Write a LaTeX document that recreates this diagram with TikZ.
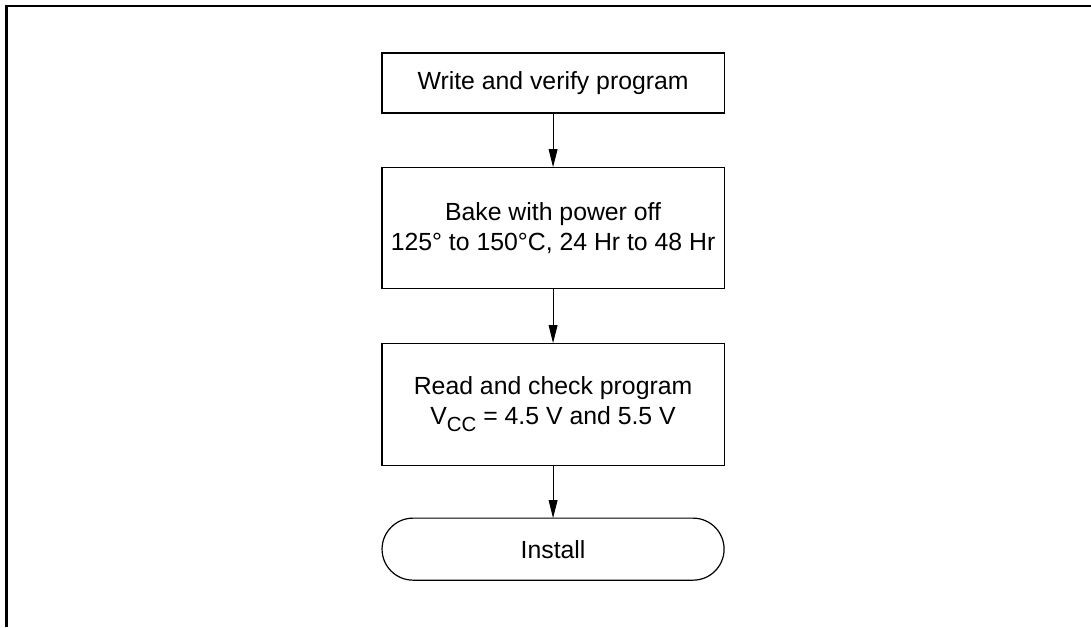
\documentclass[tikz,border=0pt]{standalone}
\usepackage{fontspec}
\setmainfont{Liberation Sans}
\usetikzlibrary{arrows.meta, positioning}
\newcommand{\subcc}{\raisebox{-3.2pt}{\fontsize{10.2}{10}\selectfont CC}}
\tikzset{
  stepbox/.style={rectangle, draw=black, line width=0.6pt,
    minimum width=6.01cm, align=center, inner sep=2pt, outer sep=0pt,
    font=\fontsize{12.4}{15}\selectfont},
  termbox/.style={stepbox, rounded corners=0.545cm},
  arr/.style={-{Triangle[length=9pt,width=4.4pt]}, line width=0.5pt},
}

\begin{document}
\begin{tikzpicture}
  \useasboundingbox (0,0) rectangle (19.17,11.02);

  % Frame (top and left edges only)
  \draw[line width=1.1pt] (0.114,0) -- (0.114,10.913) -- (19.17,10.913);

  % Flow steps
  \node[stepbox, minimum height=1.054cm] (write) at (9.718,9.560)
       {Write and verify program};
  \node[stepbox, minimum height=2.126cm] (bake) at (9.718,7.020)
       {Bake with power off\\125° to 150°C, 24 Hr to 48 Hr};
  \node[stepbox, minimum height=2.144cm] (check) at (9.718,3.919)
       {Read and check program\\V\subcc{} = 4.5 V and 5.5 V};
  \node[termbox, minimum height=1.090cm] (install) at (9.718,1.371)
       {Install};

  % Connectors
  \draw[arr] (write) -- (bake);
  \draw[arr] (bake) -- (check);
  \draw[arr] (check) -- (install);
\end{tikzpicture}
\end{document}
